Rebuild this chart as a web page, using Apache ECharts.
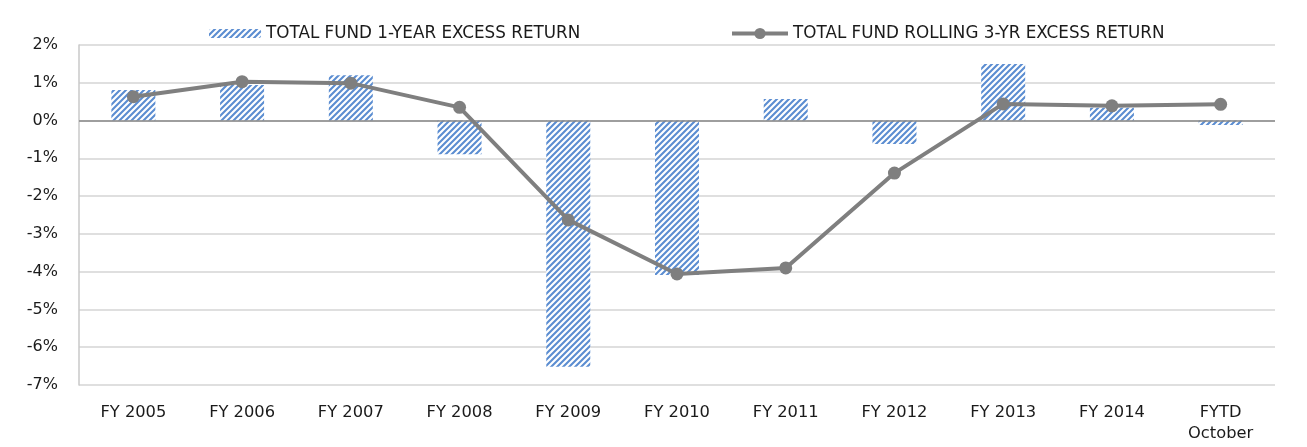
<!DOCTYPE html>
<html>
<head>
<meta charset="utf-8">
<script src="https://cdn.jsdelivr.net/npm/echarts@6/dist/echarts.min.js"></script>
<style>
  html, body { margin: 0; padding: 0; background: #fff; }
  #chart { width: 1307px; height: 447px; }
</style>
</head>
<body>
<div id="chart"></div>
<script>
const categories = ['FY 2005', 'FY 2006', 'FY 2007', 'FY 2008', 'FY 2009', 'FY 2010',
  'FY 2011', 'FY 2012', 'FY 2013', 'FY 2014', 'FYTD\nOctober'];
const oneYearExcess = [0.81, 0.94, 1.2, -0.89, -6.52, -4.09, 0.57, -0.62, 1.5, 0.34, -0.12];
const rolling3YrExcess = [0.63, 1.03, 0.99, 0.35, -2.63, -4.06, -3.9, -1.39, 0.44, 0.39, 0.43];
const yTicks = { min: -7, max: 2, interval: 1 };

const BAR_NAME = 'TOTAL FUND 1-YEAR EXCESS RETURN';
const LINE_NAME = 'TOTAL FUND ROLLING 3-YR EXCESS RETURN';

// diagonal hatch for the bars
const makeHatch = () => {
  const s = 6;
  const c = document.createElement('canvas');
  c.width = s; c.height = s;
  const ctx = c.getContext('2d');
  ctx.fillStyle = '#ffffff';
  ctx.fillRect(0, 0, s, s);
  ctx.strokeStyle = '#5b8dd1';
  ctx.lineWidth = 2.1;
  ctx.beginPath();
  ctx.moveTo(-1, s + 1); ctx.lineTo(s + 1, -1);
  ctx.moveTo(-1, 1); ctx.lineTo(1, -1);
  ctx.moveTo(s - 1, s + 1); ctx.lineTo(s + 1, s - 1);
  ctx.stroke();
  return { image: c, repeat: 'repeat' };
};

const chart = echarts.init(document.getElementById('chart'));
const font = '"DejaVu Sans", sans-serif';
const txt = size => ({ fontSize: size, color: '#1a1a1a', fontFamily: font });

chart.setOption({
  animation: false,
  textStyle: { fontFamily: font },
  legend: [
    {
      top: 20, left: 204,
      itemWidth: 52, itemHeight: 9, itemGap: 8,
      textStyle: txt(16.8),
      data: [BAR_NAME]
    },
    {
      top: 20, left: 725,
      itemWidth: 56, itemHeight: 14, itemGap: 4,
      textStyle: txt(16.8),
      data: [{ name: LINE_NAME, lineStyle: { width: 4, color: '#7f7f7f' } }]
    }
  ],
  grid: { left: 79, right: 32, top: 45, bottom: 62 },
  xAxis: {
    type: 'category',
    data: categories,
    axisLine: { onZero: false, show: false },
    axisTick: { show: false },
    axisLabel: Object.assign({ margin: 17, lineHeight: 21 }, txt(16.3))
  },
  yAxis: {
    type: 'value',
    min: yTicks.min,
    max: yTicks.max,
    interval: yTicks.interval,
    axisLine: { show: true, lineStyle: { color: '#c8c8c8', width: 1.5 } },
    axisTick: { show: false },
    splitLine: { lineStyle: { color: '#d4d4d4', width: 1.5 } },
    axisLabel: Object.assign({ formatter: '{value}%', margin: 21 }, txt(16))
  },
  series: [
    {
      name: BAR_NAME,
      type: 'bar',
      data: oneYearExcess,
      barWidth: 44,
      itemStyle: { color: makeHatch() },
      markLine: {
        silent: true,
        symbol: 'none',
        label: { show: false },
        lineStyle: { color: '#888888', width: 1.5, type: 'solid' },
        data: [{ yAxis: 0 }]
      }
    },
    {
      name: LINE_NAME,
      type: 'line',
      data: rolling3YrExcess,
      symbol: 'circle',
      symbolSize: 13,
      lineStyle: { color: '#7f7f7f', width: 4 },
      itemStyle: { color: '#7f7f7f' },
      z: 5
    }
  ]
});
</script>
</body>
</html>
